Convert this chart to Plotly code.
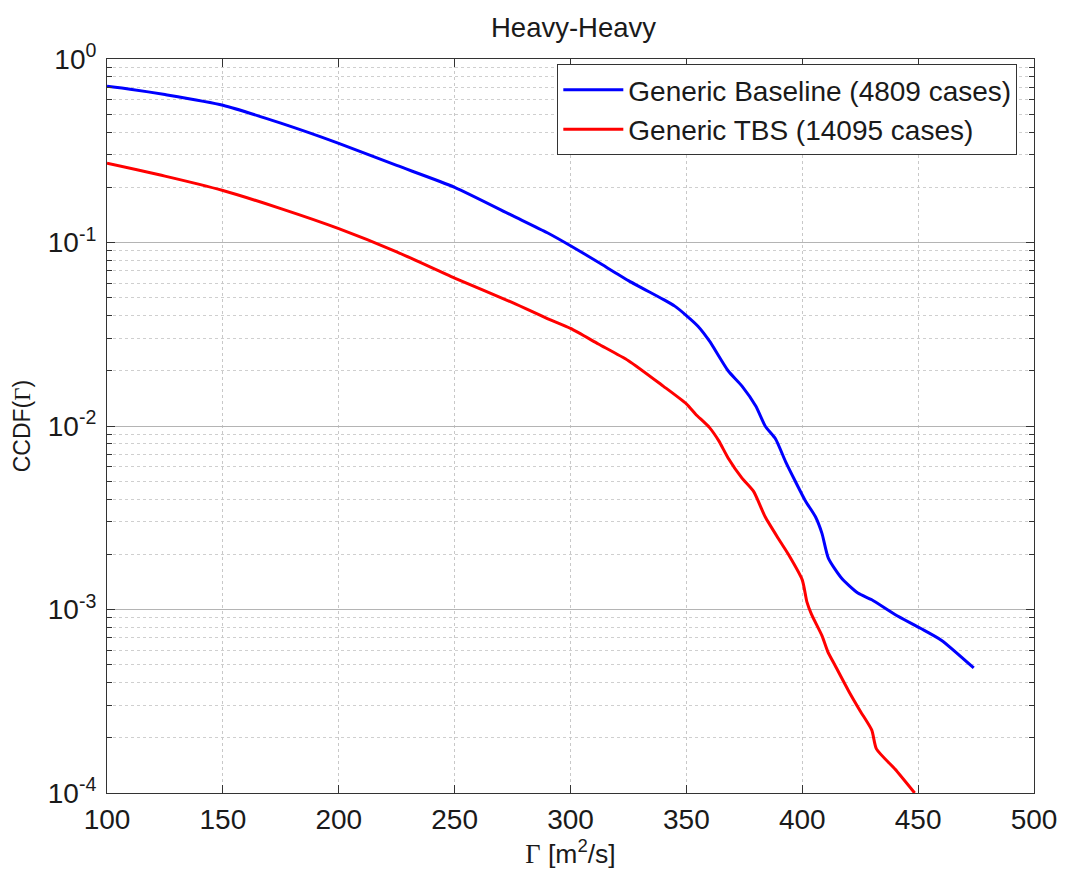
import plotly.graph_objects as go

# Circulation values (m^2/s) and complementary CDF for each separation standard
baseline_gamma = [100, 110, 125, 150, 175, 200, 225, 250, 275, 290, 300, 312, 325,
                  340, 345, 350, 355, 360, 368, 374, 380, 384, 388.5, 392.8, 397,
                  401.4, 405.7, 408.5, 411.3, 417, 424, 430, 440, 451, 460, 474]
baseline_ccdf = [0.71, 0.685, 0.64, 0.56, 0.447, 0.347, 0.263, 0.20, 0.14, 0.113,
                 0.096, 0.078, 0.062, 0.049, 0.045, 0.040, 0.035, 0.029, 0.020,
                 0.0165, 0.0128, 0.0100, 0.0085, 0.0064, 0.0050, 0.0039, 0.0032,
                 0.0026, 0.0019, 0.00148, 0.00123, 0.00113, 0.00094, 0.00079,
                 0.00068, 0.00048]

tbs_gamma = [100, 125, 150, 175, 200, 225, 250, 275, 290, 300, 312, 325, 340, 350,
             354, 360, 364, 368, 374, 379, 384, 390, 394, 400, 402, 404, 408.5,
             411, 414, 420, 425, 430, 432, 440, 448.5]
tbs_ccdf = [0.27, 0.23, 0.192, 0.153, 0.119, 0.089, 0.064, 0.047, 0.0385, 0.034,
            0.028, 0.0227, 0.0165, 0.0132, 0.0116, 0.0098, 0.0083, 0.0067, 0.0052,
            0.0044, 0.0032, 0.0024, 0.0020, 0.00145, 0.0011, 0.00094, 0.00072,
            0.00059, 0.00050, 0.00036, 0.00028, 0.00022, 0.000174, 0.000135, 0.0001]

x_ticks = [100, 150, 200, 250, 300, 350, 400, 450, 500]
y_ticks = [1e-4, 1e-3, 1e-2, 1e-1, 1]
y_ticktext = ["10<sup>-4</sup>", "10<sup>-3</sup>", "10<sup>-2</sup>",
              "10<sup>-1</sup>", "10<sup>0</sup>"]

FONT = "Liberation Sans, Arial, sans-serif"
GAMMA = "<span style=\"font-family:'Liberation Serif'\">Γ</span>"

fig = go.Figure()
fig.add_trace(go.Scatter(x=baseline_gamma, y=baseline_ccdf, mode="lines",
                         name="Generic Baseline (4809 cases)",
                         line=dict(color="#0000ff", width=3, shape="spline",
                                   smoothing=0.6)))
fig.add_trace(go.Scatter(x=tbs_gamma, y=tbs_ccdf, mode="lines",
                         name="Generic TBS (14095 cases)",
                         line=dict(color="#ff0000", width=3, shape="spline",
                                   smoothing=0.6)))

fig.update_layout(
    width=1069, height=874,
    margin=dict(l=107, r=29, t=59, b=81),
    paper_bgcolor="white", plot_bgcolor="white",
    font=dict(family=FONT, size=28, color="#1a1a1a"),
    title=dict(text="Heavy-Heavy", x=0.5365, xanchor="center", y=0.969,
               yanchor="middle", font=dict(size=27.5)),
    showlegend=True,
    legend=dict(x=0.982, y=0.993, xanchor="right", yanchor="top",
                bgcolor="white", bordercolor="#333333", borderwidth=1,
                font=dict(size=28), itemwidth=60, tracegroupgap=0),
)

fig.update_xaxes(
    range=[100, 500], tickvals=x_ticks, ticks="inside", ticklen=8,
    tickcolor="#333333", showline=True, linecolor="#333333", linewidth=1,
    mirror="ticks", showgrid=True, gridcolor="#c8c8c8", griddash="dot",
    gridwidth=1, zeroline=False, ticklabelstandoff=1,
    tickfont=dict(size=28),
    title=dict(text=GAMMA + " [m<sup>2</sup>/s]", standoff=9, font=dict(size=26.5)),
)

fig.update_yaxes(
    type="log", range=[-4, 0], tickvals=y_ticks, ticktext=y_ticktext,
    ticks="inside", ticklen=8, tickcolor="#333333", showline=True,
    linecolor="#333333", linewidth=1, mirror="ticks", showgrid=True,
    gridcolor="#b4b4b4", gridwidth=1, zeroline=False, ticklabelstandoff=4,
    tickfont=dict(size=28),
    minor=dict(dtick="D1", ticks="inside", ticklen=5, tickcolor="#333333",
               showgrid=True, gridcolor="#cfcfcf", griddash="dot", gridwidth=1),
    title=dict(text="CCDF(" + GAMMA + ")", standoff=10, font=dict(size=23)),
)

fig.write_html("out.html")
